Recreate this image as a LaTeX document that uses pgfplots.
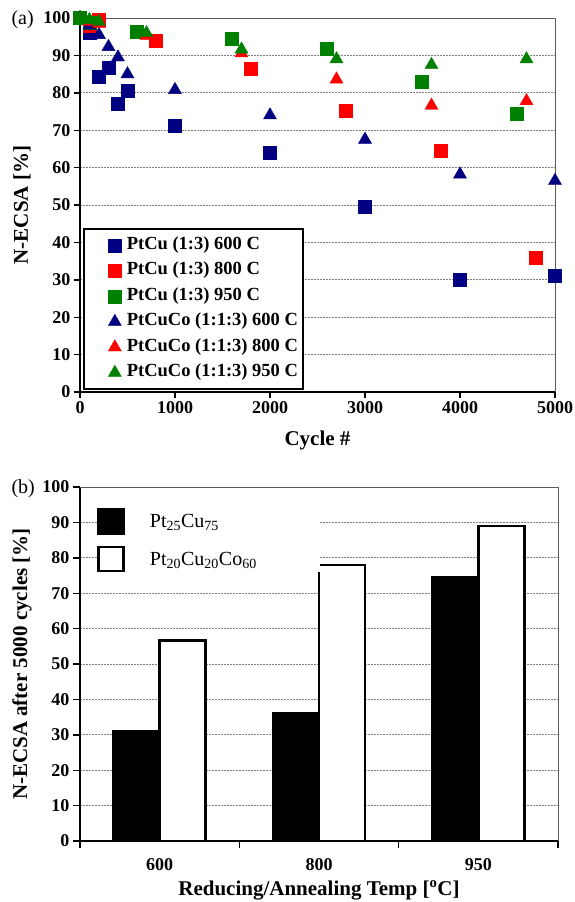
\documentclass[border=0pt]{standalone}
\usepackage{fontspec}
\setmainfont{Liberation Serif}
\usepackage{pgfplots}
\pgfplotsset{compat=1.18}
\definecolor{cnavy}{RGB}{0,0,128}
\definecolor{cred}{RGB}{255,0,0}
\definecolor{cgreen}{RGB}{0,128,0}
\definecolor{frame}{RGB}{90,90,90}

\pgfplotsset{
 common/.style={
  scale only axis, ymin=0, ymax=100, ytick={0,10,...,100},
  axis x line*=bottom, axis y line*=left,
  axis line style={line width=1.4pt, black},
  tick align=outside, major tick length=6pt,
  tick style={line width=1.4pt, black},
  ymajorgrids,
  grid style={gray, line width=0.8pt, dash pattern=on 1.6pt off 1.4pt},
  /pgf/number format/assume math mode=true,
  tick label style={font=\bfseries\fontsize{18}{18}\selectfont},
  label style={font=\bfseries\fontsize{21}{21}\selectfont},
  clip=false,
 },
}

\begin{document}
\begin{tikzpicture}
\useasboundingbox (0pt,0pt) rectangle (574pt,-902pt);

\node[anchor=base west, font=\fontsize{20}{20}\selectfont] at (8pt,-24pt) {(a)};
\node[anchor=base west, font=\fontsize{20}{20}\selectfont] at (8pt,-493pt) {(b)};

% (a) N-ECSA vs cycles
\begin{axis}[common,
 width=475pt, height=374pt, at={(80pt,-392pt)}, anchor=south west,
 xmin=0, xmax=5000, xtick={0,1000,...,5000},
 scaled x ticks=false, xticklabel style={/pgf/number format/1000 sep={}},
 xlabel={Cycle \#}, ylabel={N-ECSA [\%]},
 xlabel shift=10pt, ylabel shift=6pt,
 legend cell align=left,
 legend image code/.code={\path (0pt,0pt) (36pt,0pt); \draw[#1] plot coordinates {(27pt,0pt)};},
 legend style={at={(rel axis cs:0.006,0.006)}, anchor=south west,
  draw=black, line width=2pt, fill=white,
  font=\bfseries\fontsize{18.5}{18.5}\selectfont,
  inner xsep=3pt, inner ysep=5pt, row sep=3.5pt,
  nodes={inner sep=2pt, text height=13pt, text depth=5pt}},
]
\draw[frame, line width=1pt] (rel axis cs:0,1) -- (rel axis cs:1,1) -- (rel axis cs:1,0);

\addplot[only marks, mark=square*, mark size=6.5pt, mark options={draw=cnavy, fill=cnavy, line width=0.4pt}]
 coordinates {(0,100) (100,96) (200,84.2) (300,86.7) (400,77.2) (500,80.5) (1000,71.2) (2000,64.1) (3000,49.5) (4000,30) (5000,31)};
\addlegendentry{PtCu (1:3) 600 C}
\addplot[only marks, mark=square*, mark size=6.5pt, mark options={draw=cred, fill=cred, line width=0.4pt}]
 coordinates {(0,100) (100,98) (200,99.5) (800,93.8) (1800,86.4) (2800,75.3) (3800,64.5) (4800,35.8)};
\addlegendentry{PtCu (1:3) 800 C}
\addplot[only marks, mark=square*, mark size=6.5pt, mark options={draw=cgreen, fill=cgreen, line width=0.4pt}]
 coordinates {(0,100) (100,98.8) (600,96.4) (1600,94.4) (2600,91.8) (3600,82.9) (4600,74.4)};
\addlegendentry{PtCu (1:3) 950 C}
\addplot[only marks, mark=triangle*, mark size=7.5pt, mark options={draw=cnavy, fill=cnavy, line width=0.4pt}]
 coordinates {(0,100) (100,98) (200,95.5) (300,92.3) (400,89.5) (500,85) (1000,80.8) (2000,74) (3000,67.5) (4000,58.2) (5000,56.5)};
\addlegendentry{PtCuCo (1:1:3) 600 C}
\addplot[only marks, mark=triangle*, mark size=7.5pt, mark options={draw=cred, fill=cred, line width=0.4pt}]
 coordinates {(0,100) (100,99) (200,98.5) (700,95.2) (1700,90.6) (2700,83.6) (3700,76.6) (4700,77.8)};
\addlegendentry{PtCuCo (1:1:3) 800 C}
\addplot[only marks, mark=triangle*, mark size=7.5pt, mark options={draw=cgreen, fill=cgreen, line width=0.4pt}]
 coordinates {(0,100) (100,99.5) (200,99) (700,96) (1700,91.6) (2700,89) (3700,87.5) (4700,89)};
\addlegendentry{PtCuCo (1:1:3) 950 C}
\end{axis}

% (b) N-ECSA after 5000 cycles
\begin{axis}[common,
 width=478pt, height=354pt, at={(80pt,-841pt)}, anchor=south west,
 xmin=-0.5, xmax=2.5,
 xtick={-0.5,0.5,1.5,2.5}, xticklabels={}, major tick length=7pt,
 extra x ticks={0,1,2}, extra x tick labels={600,800,950},
 extra x tick style={major tick length=0pt, tick label style={yshift=-14pt}},
 ybar=0pt, bar width=46pt,
 xlabel={Reducing/Annealing Temp [\textsuperscript{o}C]},
 ylabel={N-ECSA after 5000 cycles [\%]},
 xlabel shift=-4pt, ylabel shift=4pt,
 legend image code/.code={\draw[#1] (0pt,-12pt) rectangle (25pt,12pt);},
 legend cell align=left,
 legend style={at={(rel axis cs:0.036,0.94)}, anchor=north west,
  draw=none, fill=white, inner sep=0pt, row sep=11pt,
  font=\fontsize{20}{20}\selectfont,
  nodes={inner sep=0pt, text width=170pt},
  /tikz/every odd column/.append style={column sep=25pt}},
]
\draw[frame, line width=1pt] (rel axis cs:0,1) -- (rel axis cs:1,1) -- (rel axis cs:1,0);
\addplot[fill=black, draw=black, line width=2.5pt]
 coordinates {(0,31) (1,36) (2,74.4)};
\addlegendentry{Pt\textsubscript{25}Cu\textsubscript{75}}
\addplot[fill=white, draw=black, line width=2.5pt]
 coordinates {(0,56.7) (1,77.9) (2,89)};
\addlegendentry{Pt\textsubscript{20}Cu\textsubscript{20}Co\textsubscript{60}}
\end{axis}
\end{tikzpicture}
\end{document}
